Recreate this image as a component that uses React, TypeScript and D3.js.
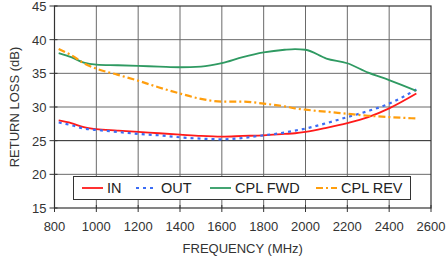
import { useEffect, useRef } from 'react';
import * as d3 from 'd3';

interface Series {
  label: string
  values: number[]
  color: string
  dash: string | null
}

const freqs = [820, 880, 940, 1000, 1100, 1200, 1300, 1400, 1500, 1600, 1700, 1800, 1900, 1950, 2000, 2100, 2200, 2300, 2400, 2530];

const inLoss = [28.0, 27.6, 27.0, 26.7, 26.5, 26.3, 26.1, 25.9, 25.7, 25.6, 25.7, 25.8, 26.0, 26.1, 26.3, 26.9, 27.6, 28.5, 29.8, 32.0];
const outLoss = [27.7, 27.3, 26.8, 26.6, 26.3, 26.0, 25.8, 25.5, 25.3, 25.2, 25.4, 25.8, 26.2, 26.5, 26.8, 27.6, 28.5, 29.4, 30.5, 32.6];
const cplFwd = [38.0, 37.4, 36.6, 36.3, 36.2, 36.1, 36.0, 35.9, 36.0, 36.5, 37.4, 38.1, 38.5, 38.6, 38.5, 37.2, 36.5, 35.1, 34.0, 32.4];
const cplRev = [38.6, 37.7, 36.5, 35.7, 34.8, 33.9, 32.9, 32.0, 31.2, 30.8, 30.8, 30.5, 30.1, 29.8, 29.6, 29.3, 29.0, 28.7, 28.5, 28.3];

const xTicks = [800, 1000, 1200, 1400, 1600, 1800, 2000, 2200, 2400, 2600];
const yTicks = [15, 20, 25, 30, 35, 40, 45];

const series: Series[] = [
  { label: 'IN', values: inLoss, color: '#ff1a1a', dash: null },
  { label: 'OUT', values: outLoss, color: '#3b6cf5', dash: '3,4' },
  { label: 'CPL FWD', values: cplFwd, color: '#2f9a62', dash: null },
  { label: 'CPL REV', values: cplRev, color: '#ff9e0d', dash: '7,3,2,3' },
];

const App = (): JSX.Element => {
  const svgRef = useRef<SVGSVGElement>(null);

  useEffect(() => {
    const width = 447;
    const height = 256;
    const margin = { top: 6, right: 16, bottom: 48, left: 54.5 };

    const svg = d3.select(svgRef.current);
    svg.selectAll('*').remove();

    const x = d3.scaleLinear().domain([800, 2600]).range([margin.left, width - margin.right]);
    const y = d3.scaleLinear().domain([15, 45]).range([height - margin.bottom, margin.top]);

    const font = 'Liberation Sans, Arial, sans-serif';

    // grid
    svg.append('g')
      .selectAll('line')
      .data(xTicks.slice(1, -1))
      .enter()
      .append('line')
      .attr('x1', d => x(d)).attr('x2', d => x(d))
      .attr('y1', y(15)).attr('y2', y(45))
      .attr('stroke', '#6a6a6a')
      .attr('stroke-width', 1);

    svg.append('g')
      .selectAll('line')
      .data(yTicks.slice(1, -1))
      .enter()
      .append('line')
      .attr('x1', x(800)).attr('x2', x(2600))
      .attr('y1', d => y(d)).attr('y2', d => y(d))
      .attr('stroke', d => (d === 25 ? '#222' : '#6a6a6a'))
      .attr('stroke-width', 1);

    // frame
    svg.append('rect')
      .attr('x', x(800)).attr('y', y(45))
      .attr('width', x(2600) - x(800))
      .attr('height', y(15) - y(45))
      .attr('fill', 'none')
      .attr('stroke', '#333')
      .attr('stroke-width', 1.2);

    // ticks
    svg.append('g')
      .selectAll('line')
      .data(xTicks)
      .enter()
      .append('line')
      .attr('x1', d => x(d)).attr('x2', d => x(d))
      .attr('y1', y(15) - 3).attr('y2', y(15) + 4)
      .attr('stroke', '#333');

    svg.append('g')
      .selectAll('line')
      .data(yTicks)
      .enter()
      .append('line')
      .attr('x1', x(800) - 5).attr('x2', x(800) + 3)
      .attr('y1', d => y(d)).attr('y2', d => y(d))
      .attr('stroke', '#333');

    svg.append('g')
      .selectAll('text')
      .data(xTicks)
      .enter()
      .append('text')
      .attr('x', d => x(d))
      .attr('y', y(15) + 23)
      .attr('text-anchor', 'middle')
      .attr('font-family', font)
      .attr('font-size', 13)
      .attr('fill', '#333')
      .text(d => d);

    svg.append('g')
      .selectAll('text')
      .data(yTicks)
      .enter()
      .append('text')
      .attr('x', x(800) - 8)
      .attr('y', d => y(d) + 5)
      .attr('text-anchor', 'end')
      .attr('font-family', font)
      .attr('font-size', 13)
      .attr('fill', '#333')
      .text(d => d);

    svg.append('text')
      .attr('x', (x(800) + x(2600)) / 2)
      .attr('y', height - 3)
      .attr('text-anchor', 'middle')
      .attr('font-family', font)
      .attr('font-size', 13)
      .attr('fill', '#333')
      .text('FREQUENCY (MHz)');

    svg.append('text')
      .attr('transform', `translate(19,${(y(15) + y(45)) / 2}) rotate(-90)`)
      .attr('text-anchor', 'middle')
      .attr('font-family', font)
      .attr('font-size', 13)
      .attr('fill', '#333')
      .text('RETURN LOSS (dB)');

    // curves
    const line = d3.line<number>()
      .x((_d, i) => x(freqs[i]))
      .y(d => y(d))
      .curve(d3.curveMonotoneX);

    series.forEach(s => {
      svg.append('path')
        .attr('d', line(s.values))
        .attr('fill', 'none')
        .attr('stroke', s.color)
        .attr('stroke-width', s.dash ? 2.2 : 1.8)
        .attr('stroke-dasharray', s.dash ?? null);
    });

    // legend
    const lg = svg.append('g');
    lg.append('rect')
      .attr('x', 73.5).attr('y', 176.5)
      .attr('width', 337).attr('height', 23)
      .attr('fill', 'white')
      .attr('stroke', '#333')
      .attr('stroke-width', 1);

    const legendX = [82, 136, 210, 316];
    series.forEach((s, i) => {
      lg.append('line')
        .attr('x1', legendX[i]).attr('x2', legendX[i] + 21)
        .attr('y1', 188).attr('y2', 188)
        .attr('stroke', s.color)
        .attr('stroke-width', s.dash ? 2.2 : 1.8)
        .attr('stroke-dasharray', s.dash ?? null);
      lg.append('text')
        .attr('x', legendX[i] + 25)
        .attr('y', 193)
        .attr('font-family', font)
        .attr('font-size', 14.5)
        .attr('fill', '#222')
        .text(s.label);
    });

    return () => {
      d3.select(svgRef.current).selectAll('*').remove();
    };
  }, []);

  return (
    <svg
      ref={svgRef}
      width={447}
      height={256}
      style={{ position: 'absolute', left: 0, top: 0, background: 'white' }}
    />
  );
};

export default App;
